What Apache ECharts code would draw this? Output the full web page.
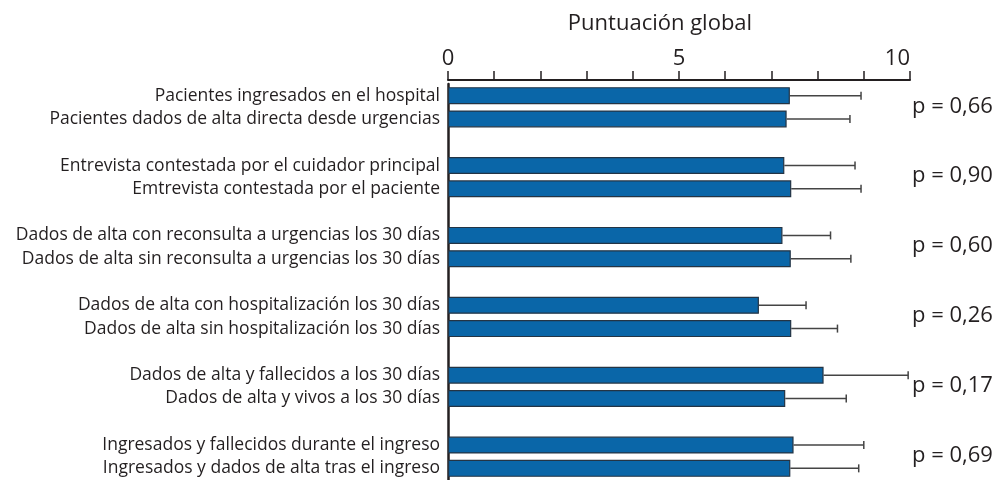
<!DOCTYPE html>
<html>
<head>
<meta charset="utf-8">
<script src="https://cdn.jsdelivr.net/npm/echarts@6/dist/echarts.min.js"></script>
<style>
  html, body { margin: 0; padding: 0; background: #fff; }
  #chart { width: 998px; height: 480px; }
</style>
</head>
<body>
<div id="chart"></div>
<script>
// comparisons, two rows per group
const labels = [
  'Pacientes ingresados en el hospital',
  'Pacientes dados de alta directa desde urgencias',
  'Entrevista contestada por el cuidador principal',
  'Emtrevista contestada por el paciente',
  'Dados de alta con reconsulta a urgencias los 30 días',
  'Dados de alta sin reconsulta a urgencias los 30 días',
  'Dados de alta con hospitalización los 30 días',
  'Dados de alta sin hospitalización los 30 días',
  'Dados de alta y fallecidos a los 30 días',
  'Dados de alta y vivos a los 30 días',
  'Ingresados y fallecidos durante el ingreso',
  'Ingresados y dados de alta tras el ingreso',
]
const means = [7.40, 7.33, 7.28, 7.43, 7.24, 7.42, 6.73, 7.43, 8.13, 7.30, 7.48, 7.41]
const upper = [8.94, 8.70, 8.81, 8.94, 8.28, 8.72, 7.75, 8.43, 9.96, 8.62, 9.00, 8.89]
const pValues = ['p = 0,66', 'p = 0,90', 'p = 0,60', 'p = 0,26', 'p = 0,17', 'p = 0,69']
const xTickLabels = [0, 5, 10]

const ink = '#231f20'
const font = '"Open Sans", "Noto Sans", sans-serif'

// put a blank row between groups
const categories = []
const barData = []
const errData = []
const pData = []
labels.forEach((name, i) => {
  if (i > 0 && i % 2 === 0) {
    categories.push('')
    barData.push('-')
  }
  const idx = categories.length
  categories.push(name)
  barData.push(means[i])
  errData.push([means[i], upper[i], idx])
  if (i % 2 === 0) pData.push([10, idx, pValues[i / 2]])
})

const chart = echarts.init(document.getElementById('chart'))
chart.setOption({
  animation: false,
  backgroundColor: '#fff',
  textStyle: { fontFamily: font },
  grid: { left: 448, right: 88, top: 84, bottom: 0 },
  xAxis: {
    type: 'value',
    position: 'top',
    min: 0,
    max: 10,
    interval: 1,
    offset: 4,
    name: 'Puntuación global',
    nameLocation: 'middle',
    nameGap: 45,
    nameTextStyle: { color: ink, fontSize: 22, fontFamily: font, padding: [0, 38, 0, 0] },
    axisLine: { show: true, lineStyle: { color: ink, width: 2 } },
    axisTick: { show: true, length: 9, lineStyle: { color: ink, width: 1.5 } },
    axisLabel: {
      color: ink,
      fontSize: 22,
      margin: 10,
      alignMaxLabel: 'right',
      formatter: (v) => (xTickLabels.includes(v) ? String(v) : ''),
    },
    splitLine: { show: false },
  },
  yAxis: {
    type: 'category',
    inverse: true,
    data: categories,
    axisLine: { show: true, lineStyle: { color: ink, width: 2.5 } },
    axisTick: { show: false },
    axisLabel: { color: ink, fontSize: 17.5, margin: 8, interval: 0 },
  },
  series: [
    {
      type: 'bar',
      data: barData,
      barWidth: 17,
      itemStyle: { color: '#0a66a8', borderColor: '#243444', borderWidth: 1.2 },
    },
    {
      type: 'custom',
      data: errData,
      encode: { x: [0, 1], y: 2 },
      clip: false,
      renderItem: (params, api) => {
        const a = api.coord([api.value(0), api.value(2)])
        const b = api.coord([api.value(1), api.value(2)])
        const style = { stroke: '#444', lineWidth: 1.5 }
        return {
          type: 'group',
          children: [
            { type: 'line', shape: { x1: a[0], y1: a[1], x2: b[0], y2: b[1] }, style },
            { type: 'line', shape: { x1: b[0], y1: b[1] - 4, x2: b[0], y2: b[1] + 4 }, style },
          ],
        }
      },
    },
    {
      type: 'custom',
      data: pData,
      encode: { x: 0, y: 1 },
      clip: false,
      renderItem: (params, api) => {
        const a = api.coord([api.value(0), api.value(1)])
        const b = api.coord([api.value(0), api.value(1) + 1])
        return {
          type: 'text',
          x: a[0] + 2,
          y: (a[1] + b[1]) / 2 - 1,
          style: {
            text: pData[params.dataIndex][2],
            fill: ink,
            font: '22px ' + font,
            align: 'left',
            verticalAlign: 'middle',
          },
        }
      },
    },
  ],
})
</script>
</body>
</html>
